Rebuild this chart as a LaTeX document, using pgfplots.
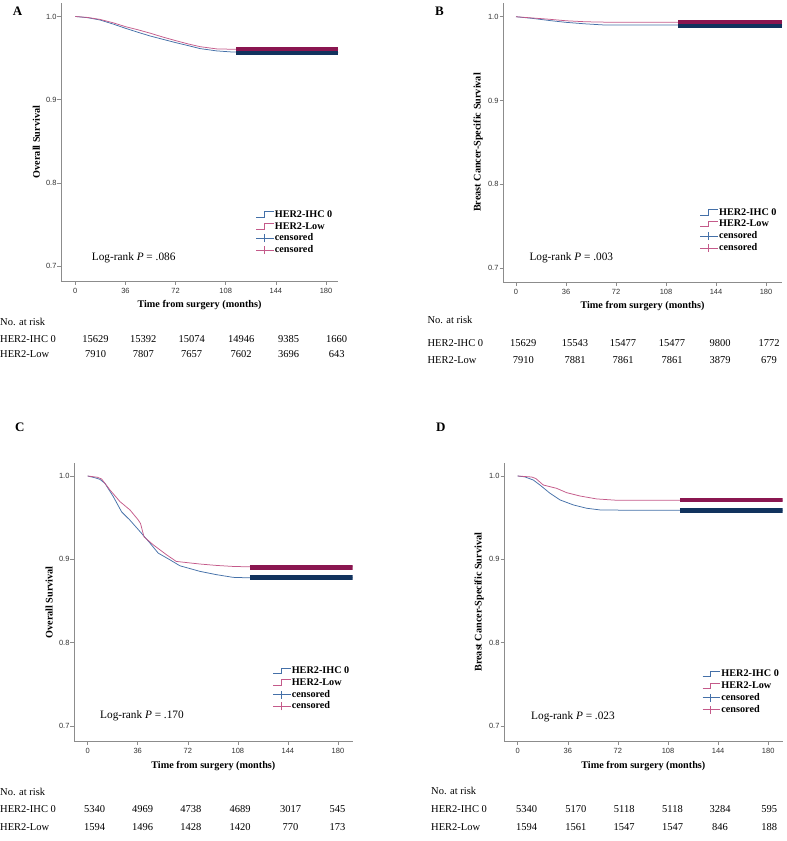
\documentclass[border=0pt]{standalone}
\usepackage{fontspec}
\setmainfont{Liberation Serif}
\newfontfamily\sansf{Liberation Sans}
\usepackage{pgfplots}
\pgfplotsset{compat=1.18}

\definecolor{kmihc}{HTML}{4470A8}
\definecolor{kmlow}{HTML}{C45A8A}
\definecolor{ihcbar}{HTML}{12335E}
\definecolor{lowbar}{HTML}{8A1650}
\definecolor{axgray}{HTML}{8C8C8C}
\definecolor{tickc}{HTML}{333333}

\newcommand{\tickfont}{\sansf\fontsize{7.5}{8}\selectfont}
\newcommand{\labfont}{\bfseries\fontsize{10.2}{12}\selectfont}
\newcommand{\legfont}{\bfseries\fontsize{10.2}{12}\selectfont}
\newcommand{\tabfont}{\fontsize{10.5}{12}\selectfont}
\newcommand{\lrfont}{\fontsize{11.3}{13}\selectfont}

\pgfplotsset{
  legstep/.style={legend image code/.code={\draw[##1, line width=0.8pt] (0pt,-2.5pt) -- (8pt,-2.5pt) -- (8pt,3pt) -- (17.5pt,3pt);}},
  legcens/.style={legend image code/.code={\draw[##1, line width=0.8pt] (0pt,0pt) -- (17.5pt,0pt) (8pt,-4pt) -- (8pt,4pt);}},
  km/.style={
    scale only axis,
    axis lines=left,
    axis line style={-, draw=axgray, line width=0.7pt},
    tick align=outside,
    major tick length=3.5pt,
    tick style={draw=axgray, line width=0.6pt},
    xtick={0,36,72,108,144,180},
    ytick={0.7,0.8,0.9,1.0},
    /pgf/number format/assume math mode=true,
    yticklabel style={/pgf/number format/fixed, /pgf/number format/fixed zerofill, /pgf/number format/precision=1, font=\tickfont, text=tickc, inner sep=0.8pt},
    xticklabel style={font=\tickfont, text=tickc},
    xlabel={Time from surgery (months)},
    xlabel style={font=\labfont, at={(axis description cs:0.5,-0.086)}, anchor=center},
    ylabel style={font=\labfont, at={(axis description cs:-0.089,0.5)}, anchor=center},
    legend cell align=left,
    legend style={anchor=north west, draw=none, fill=none, inner sep=0pt, outer sep=0pt,
      row sep=1.8pt, column sep=0.8pt, font=\legfont,
      nodes={inner sep=0pt, text height=7.5pt, text depth=2.5pt}},
  },
  kmline/.style={line width=0.75pt, line join=round, forget plot},
  kmbar/.style={line width=4.5pt, forget plot},
}

\begin{document}
\begin{tikzpicture}
\path[use as bounding box] (0pt,0pt) rectangle (787pt,-841pt);

% ---------- A ----------
\begin{axis}[km, at={(61pt,-281pt)}, anchor=south west, width=277pt, height=278pt,
  xmin=-10.27, xmax=188.6, ymin=0.682, ymax=1.0162,
  ylabel={Overall Survival},
  legend style={at={(axis description cs:0.703,0.256)}}]
\addplot[kmihc, kmline] coordinates {(0,1.0) (9,0.9985) (17.7,0.9958) (27,0.991) (36,0.9858) (45,0.981) (53.6,0.9766) (63,0.9725) (72,0.9686) (81,0.965) (89.6,0.9614) (101.6,0.9586) (113.5,0.9572) (188.6,0.9568)};
\addplot[kmlow, kmline] coordinates {(0,1.0) (9,0.9988) (17.7,0.9965) (27,0.9925) (36,0.9878) (45,0.984) (53.6,0.980) (63,0.9752) (72,0.971) (81,0.967) (89.6,0.9637) (101.6,0.961) (113.5,0.9606) (188.6,0.9606)};
\addplot[ihcbar, kmbar] coordinates {(115.4,0.9562) (188.5,0.9562)};
\addplot[lowbar, kmbar] coordinates {(115.4,0.9610) (188.5,0.9610)};
\addlegendimage{legstep, draw=kmihc}\addlegendentry{HER2-IHC 0}
\addlegendimage{legstep, draw=kmlow}\addlegendentry{HER2-Low}
\addlegendimage{legcens, draw=kmihc}\addlegendentry{censored}
\addlegendimage{legcens, draw=kmlow}\addlegendentry{censored}
\end{axis}

% ---------- B ----------
\begin{axis}[km, at={(503pt,-282pt)}, anchor=south west, width=279pt, height=279pt,
  xmin=-9.36, xmax=191.5, ymin=0.6833, ymax=1.0164,
  ylabel={Breast Cancer-Specific Survival},
  legend style={at={(axis description cs:0.706,0.267)}}]
\addplot[kmihc, kmline] coordinates {(0,1.0) (12,0.998) (24,0.9955) (36,0.9933) (50,0.9915) (65,0.990) (191.5,0.990)};
\addplot[kmlow, kmline] coordinates {(0,1.0) (12,0.9985) (24,0.997) (36,0.9952) (50,0.994) (65,0.9935) (191.5,0.9935)};
\addplot[ihcbar, kmbar] coordinates {(116.9,0.9891) (191.4,0.9891)};
\addplot[lowbar, kmbar] coordinates {(116.9,0.9937) (191.4,0.9937)};
\addlegendimage{legstep, draw=kmihc}\addlegendentry{HER2-IHC 0}
\addlegendimage{legstep, draw=kmlow}\addlegendentry{HER2-Low}
\addlegendimage{legcens, draw=kmihc}\addlegendentry{censored}
\addlegendimage{legcens, draw=kmlow}\addlegendentry{censored}
\end{axis}

% ---------- C ----------
\begin{axis}[km, at={(74pt,-741.7pt)}, anchor=south west, width=278.7pt, height=278.7pt,
  xmin=-9.85, xmax=190.6, ymin=0.6812, ymax=1.0156,
  ylabel={Overall Survival},
  legend style={at={(axis description cs:0.713,0.272)}}]
\addplot[kmihc, kmline] coordinates {(0,1.0) (5,0.998) (8.8,0.996) (12.4,0.9912) (18.4,0.9753) (24.4,0.957) (30.4,0.947) (37.6,0.9334) (44.8,0.9195) (50.7,0.9075) (59.1,0.8995) (66.3,0.8923) (80.7,0.8856) (92.7,0.8816) (104.6,0.8784) (116.6,0.8778) (190.6,0.8778)};
\addplot[kmlow, kmline] coordinates {(0,1.0) (7,0.9985) (10,0.9964) (11.6,0.993) (16,0.9833) (23.2,0.9693) (30.4,0.9593) (36.3,0.9474) (38,0.943) (40.5,0.927) (47.1,0.9175) (56.7,0.9055) (63.7,0.8975) (80.7,0.8944) (92.7,0.8927) (104.6,0.8915) (116.6,0.8910) (190.6,0.8910)};
\addplot[ihcbar, kmbar, line width=5pt] coordinates {(116.6,0.8780) (190.5,0.8780)};
\addplot[lowbar, kmbar, line width=5pt] coordinates {(116.6,0.8908) (190.5,0.8908)};
\addlegendimage{legstep, draw=kmihc}\addlegendentry{HER2-IHC 0}
\addlegendimage{legstep, draw=kmlow}\addlegendentry{HER2-Low}
\addlegendimage{legcens, draw=kmihc}\addlegendentry{censored}
\addlegendimage{legcens, draw=kmlow}\addlegendentry{censored}
\end{axis}

% ---------- D ----------
\begin{axis}[km, at={(504pt,-741.7pt)}, anchor=south west, width=278.7pt, height=278.7pt,
  xmin=-9.84, xmax=190.4, ymin=0.6812, ymax=1.0156,
  ylabel={Breast Cancer-Specific Survival},
  legend style={at={(axis description cs:0.7115,0.260)}}]
\addplot[kmihc, kmline] coordinates {(0,1.0) (5,0.999) (11.2,0.9952) (16,0.9892) (23.2,0.9793) (30.4,0.9713) (40,0.9653) (49.6,0.9613) (59.1,0.9593) (75.9,0.959) (190.4,0.9588)};
\addplot[kmlow, kmline] coordinates {(0,1.0) (10,0.9988) (13,0.997) (18.4,0.9892) (28,0.9852) (35.2,0.98) (44.8,0.976) (56.7,0.9725) (71.1,0.9709) (190.4,0.9709)};
\addplot[ihcbar, kmbar] coordinates {(116.6,0.9587) (190.3,0.9587)};
\addplot[lowbar, kmbar] coordinates {(116.6,0.9710) (190.3,0.9710)};
\addlegendimage{legstep, draw=kmihc}\addlegendentry{HER2-IHC 0}
\addlegendimage{legstep, draw=kmlow}\addlegendentry{HER2-Low}
\addlegendimage{legcens, draw=kmihc}\addlegendentry{censored}
\addlegendimage{legcens, draw=kmlow}\addlegendentry{censored}
\end{axis}

\begin{scope}[every node/.style={inner sep=0pt}]
% panel letters
\node[font=\bfseries\fontsize{13}{14}\selectfont, anchor=base west] at (12.7pt,-15.7pt) {A};
\node[font=\bfseries\fontsize{13}{14}\selectfont, anchor=base west] at (435pt,-15.7pt) {B};
\node[font=\bfseries\fontsize{13}{14}\selectfont, anchor=base west] at (15pt,-431.7pt) {C};
\node[font=\bfseries\fontsize{13}{14}\selectfont, anchor=base west] at (436pt,-431.7pt) {D};

% log-rank
\node[font=\lrfont, anchor=base west] at (91.7pt,-260pt) {Log-rank \textit{P} = .086};
\node[font=\lrfont, anchor=base west] at (529.3pt,-260.7pt) {Log-rank \textit{P} = .003};
\node[font=\lrfont, anchor=base west] at (100pt,-718.3pt) {Log-rank \textit{P} = .170};
\node[font=\lrfont, anchor=base west] at (531pt,-719pt) {Log-rank \textit{P} = .023};

% risk table A
\node[font=\tabfont, anchor=base west] at (0pt,-325.7pt) {No. at risk};
\node[font=\tabfont, anchor=base west] at (0pt,-342.2pt) {HER2-IHC 0};
\node[font=\tabfont, anchor=base west] at (0pt,-357.3pt) {HER2-Low};
\foreach \x/\a/\b in {95.5/15629/7910, 143.3/15392/7807, 191.7/15074/7657, 241.2/14946/7602, 288.7/9385/3696, 336.7/1660/643} {
  \node[font=\tabfont, anchor=base] at (\x pt,-342.2pt) {\a};
  \node[font=\tabfont, anchor=base] at (\x pt,-357.3pt) {\b};
}
% risk table B
\node[font=\tabfont, anchor=base west] at (427.3pt,-323.5pt) {No. at risk};
\node[font=\tabfont, anchor=base west] at (427.3pt,-346pt) {HER2-IHC 0};
\node[font=\tabfont, anchor=base west] at (427.3pt,-363.5pt) {HER2-Low};
\foreach \x/\a/\b in {523.3/15629/7910, 575/15543/7881, 623/15477/7861, 672/15477/7861, 720/9800/3879, 769/1772/679} {
  \node[font=\tabfont, anchor=base] at (\x pt,-346pt) {\a};
  \node[font=\tabfont, anchor=base] at (\x pt,-363.5pt) {\b};
}
% risk table C
\node[font=\tabfont, anchor=base west] at (0pt,-795pt) {No. at risk};
\node[font=\tabfont, anchor=base west] at (0pt,-812.7pt) {HER2-IHC 0};
\node[font=\tabfont, anchor=base west] at (0pt,-830pt) {HER2-Low};
\foreach \x/\a/\b in {94.7/5340/1594, 142.5/4969/1496, 190.8/4738/1428, 240.2/4689/1420, 290.5/3017/770, 337.5/545/173} {
  \node[font=\tabfont, anchor=base] at (\x pt,-812.7pt) {\a};
  \node[font=\tabfont, anchor=base] at (\x pt,-830pt) {\b};
}
% risk table D
\node[font=\tabfont, anchor=base west] at (431pt,-794pt) {No. at risk};
\node[font=\tabfont, anchor=base west] at (431pt,-812.7pt) {HER2-IHC 0};
\node[font=\tabfont, anchor=base west] at (431pt,-830pt) {HER2-Low};
\foreach \x/\a/\b in {526.7/5340/1594, 575.8/5170/1561, 624.2/5118/1547, 672.5/5118/1547, 720/3284/846, 769.2/595/188} {
  \node[font=\tabfont, anchor=base] at (\x pt,-812.7pt) {\a};
  \node[font=\tabfont, anchor=base] at (\x pt,-830pt) {\b};
}
\end{scope}
\end{tikzpicture}
\end{document}
